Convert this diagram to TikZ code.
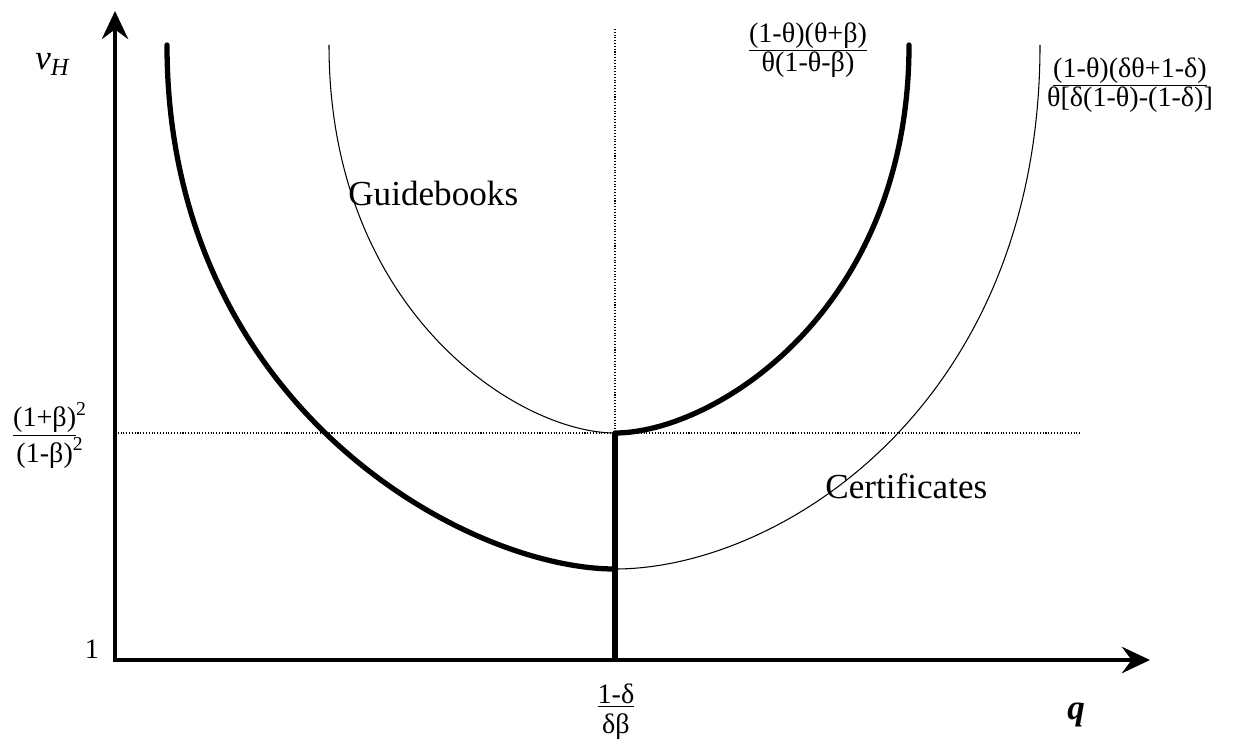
\documentclass[tikz,border=0pt]{standalone}
\usepackage{fontspec}
\setmainfont{Liberation Serif}
\usetikzlibrary{arrows.meta}

\begin{document}
\begin{tikzpicture}[
  x=0.02cm, y=-0.02cm,
  axis/.style={line width=2.3pt, {Stealth[length=16pt, width=15pt, inset=5.5pt]}-{Stealth[length=16pt, width=15pt, inset=5.5pt]}},
  bound/.style={line width=3pt, line cap=round},
  ref/.style={line width=0.6pt, densely dotted},
  curve/.style={line width=0.6pt},
  lab/.style={font=\fontsize{20}{22}\selectfont, inner sep=0pt},
  frac/.style={font=\fontsize{16}{17}\selectfont, align=center, inner sep=0pt}
]
\useasboundingbox (0,0) rectangle (1246,753);
\coordinate (O) at (115,660);
\coordinate (ytip) at (115,11);
\coordinate (xtip) at (1150,660);
\coordinate (vtop) at (615,29);
\coordinate (G) at (615,433);
\coordinate (C) at (615,569);
\coordinate (Q) at (615,660);
\coordinate (hl) at (115,433);
\coordinate (hr) at (1082,433);

\draw[ref] (vtop) -- (Q);
\draw[ref] (hl) -- (hr);
\draw[curve] (329,45) .. controls (329,312) and (519,433) .. (G);
\draw[curve] (C) .. controls (780,569) and (1040,405) .. (1040,45);
\draw[bound] (167,45) .. controls (167,405) and (465,569) .. (C);
\draw[bound] (G) .. controls (713,433) and (909,312) .. (909,45);
\draw[bound, line cap=butt] (G) -- (Q);
\draw[axis] (ytip) -- (O) -- (xtip);

\node[lab, anchor=base west] (vh) at (35,70) {\textit{v}\textsubscript{\textit{H}}};
\node[lab, anchor=base west] (guide) at (348,205) {Guidebooks};
\node[lab, anchor=base west] (cert) at (825,498) {Certificates};
\node[frac, anchor=base] (fg) at (808,72) {\underline{(1-θ)(θ+β)}\\θ(1-θ-β)};
\node[frac, anchor=base] (fc) at (1130,107) {\underline{(1-θ)(δθ+1-δ)}\\θ[δ(1-θ)-(1-δ)]};
\node[frac, anchor=base] (vbar) at (50,462) {\underline{(1+β)}\textsuperscript{2}\\(1-β)\textsuperscript{2}};
\node[frac, anchor=base] (qbar) at (616,733) {\underline{1-δ}\\δβ};
\node[frac, anchor=base] (one) at (92,658) {1};
\node[lab, anchor=base west] (q) at (1067,719) {\textbf{\textit{q}}};
\end{tikzpicture}
\end{document}
